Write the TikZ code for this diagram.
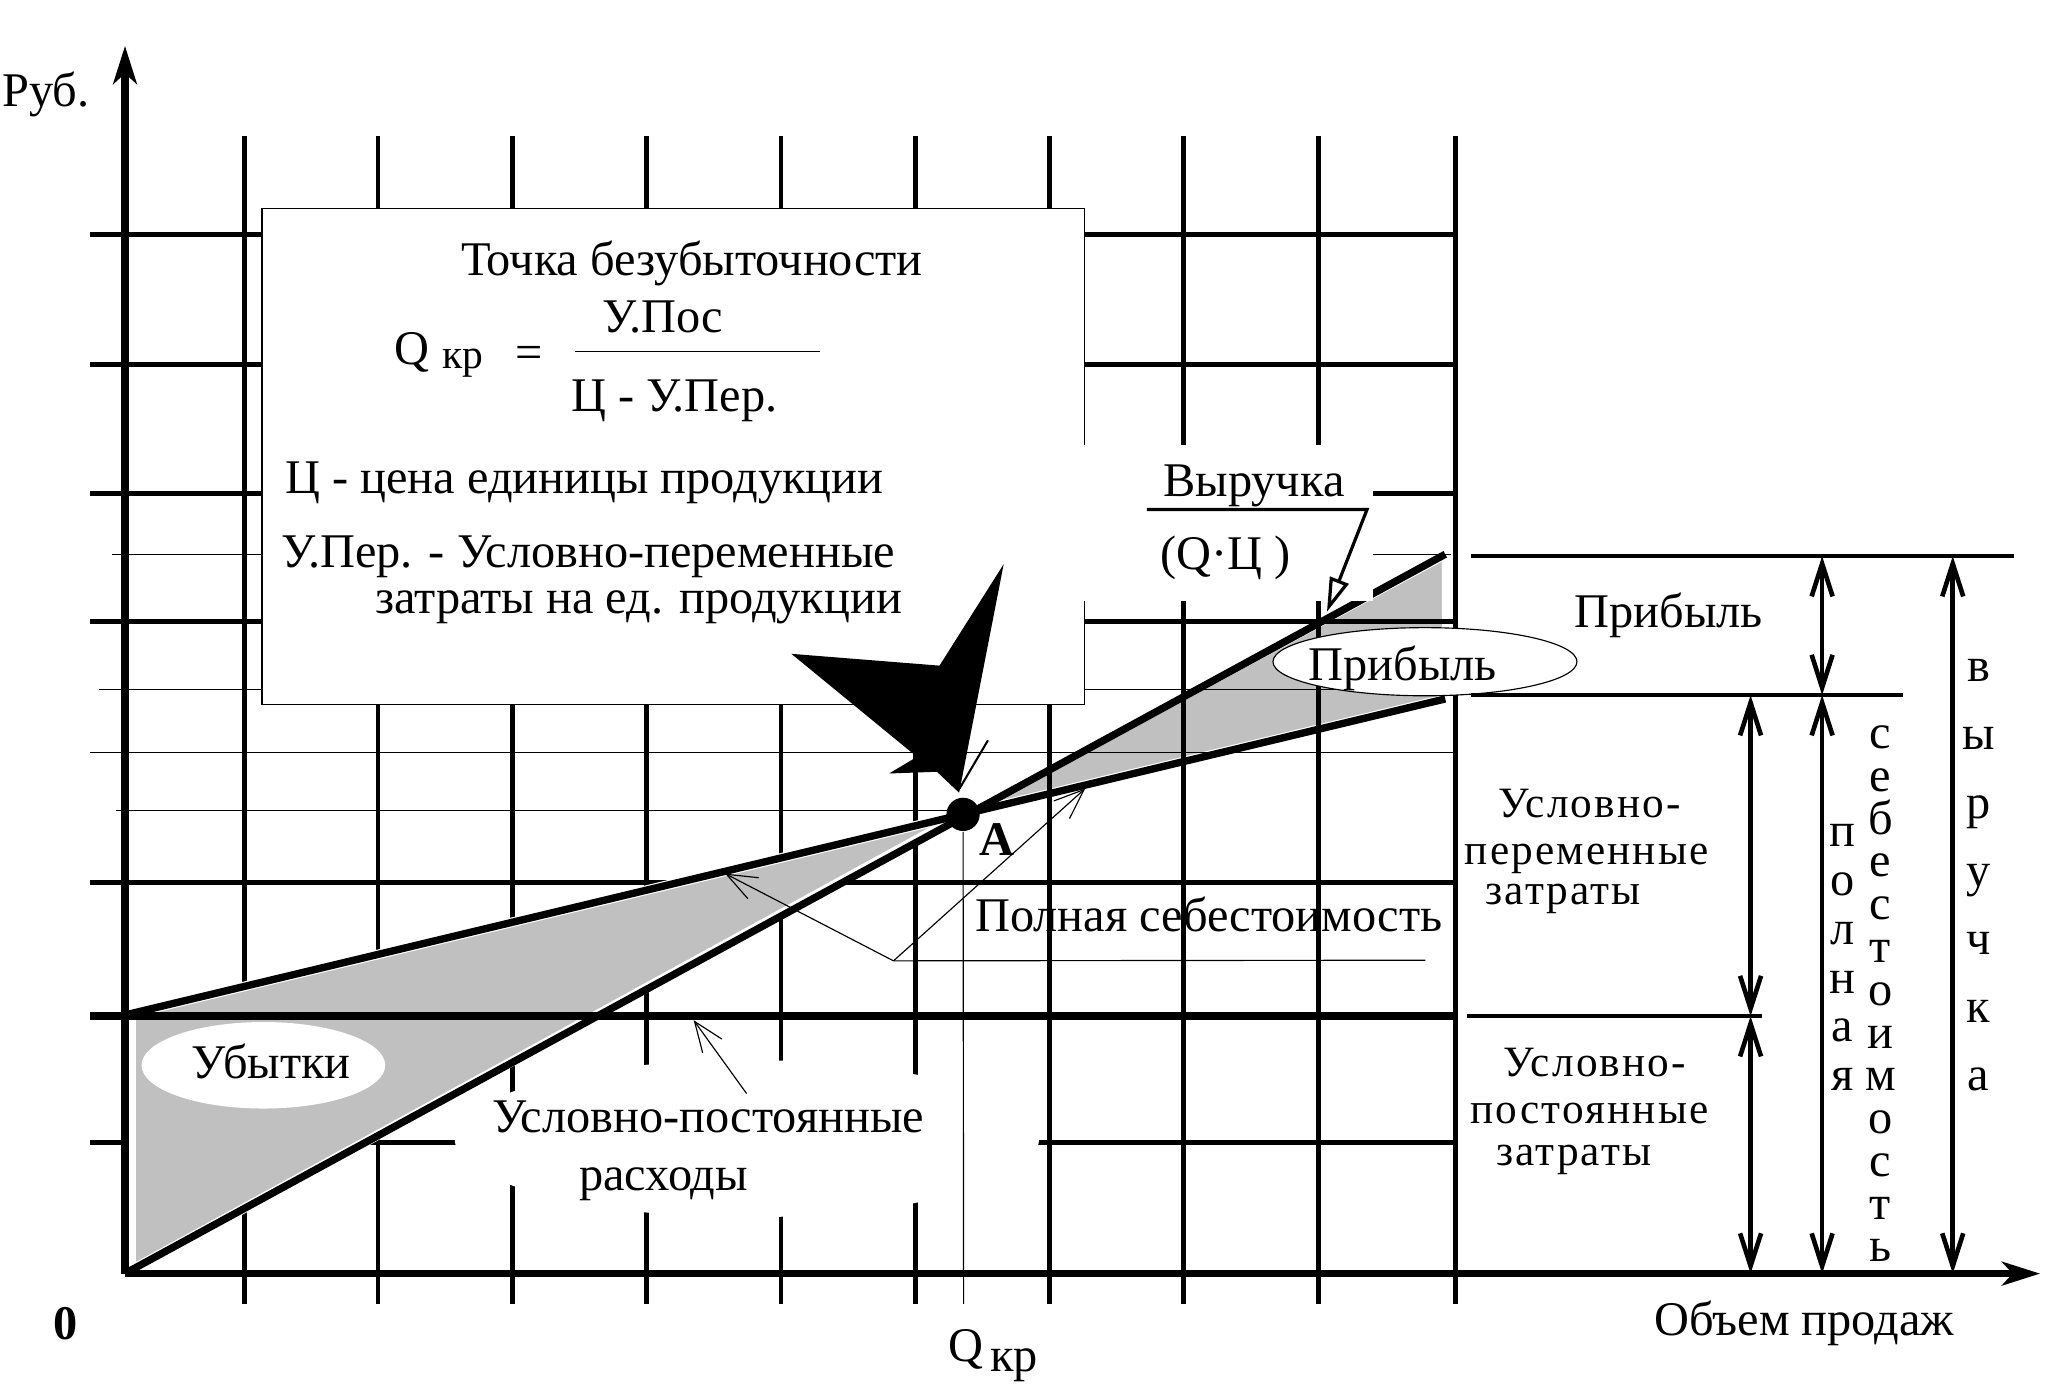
\documentclass[tikz,border=0pt]{standalone}
\usepackage{fontspec}
\setmainfont{Liberation Serif}
\usetikzlibrary{positioning, shapes.geometric, arrows.meta}
\definecolor{shadegrey}{HTML}{C0C0C0}
\tikzset{
    gridline/.style={line width=1.05pt},
    thinline/.style={line width=0.25pt},
    heavyline/.style={line width=1.6pt},
    shade/.style={fill=shadegrey, draw=white, line width=2.1pt, line join=round},
    txt/.style={font=\fontsize{10.5}{12}\selectfont, inner sep=0pt},
    txtb/.style={font=\fontsize{10.5}{12}\selectfont\bfseries, inner sep=0pt},
    sidetxt/.style={font=\fontsize{9.4}{11}\selectfont\addfontfeature{LetterSpace=5}, inner sep=0pt},
    measure/.style={line width=1pt, {Straight Barb[length=2.5mm, width=1.6mm]}-{Straight Barb[length=2.5mm, width=1.6mm]}},
    pointer/.style={thinline, -{Straight Barb[length=2.3mm, width=1.8mm]}},
}

\begin{document}
\begin{tikzpicture}[x=0.1mm, y=-0.1mm]
            \useasboundingbox (0, 0) rectangle (1563, 1058.5);

            \coordinate (orig) at (95.4, 972);
            \coordinate (ytop) at (95.4, 35);
            \coordinate (xend) at (1557, 972);
            \coordinate (O) at (97, 971);
            \coordinate (F) at (98, 774);
            \coordinate (Rend) at (1103, 423);
            \coordinate (Cend) at (1103, 533.4);

            \filldraw [shade] (735, 621.5) -- (1104, 422.5) -- (1104, 533.2) -- cycle;

            \foreach \x in {186.5, 288.5, 391, 493.5, 596, 698.5, 801, 903.5, 1006.5, 1111}
                \draw [gridline] (\x, 103.7) -- (\x, 995);
            \foreach \y in {178.8, 278, 376.8, 474.6, 673.5, 872}
                \draw [gridline] (68.7, \y) -- (1111, \y);
            \draw [thinline] (85.7, 423.3) -- (1107, 423.3);
            \draw [thinline] (75.8, 526.5) -- (1111, 526.5);
            \draw [thinline] (68.7, 574.3) -- (1111, 574.3);
            \draw [thinline] (88.5, 618.6) -- (735, 618.6);

            \filldraw [shade] (100, 773.5) -- (735, 621.5) -- (100, 969.4) -- cycle;

            \draw [heavyline] (68.7, 775.5) -- (1111, 775.5);
            \draw [heavyline, -{Stealth[length=2.9mm, width=1.8mm, inset=0.8mm]}] (orig) -- (ytop);
            \draw [heavyline, -{Stealth[length=2.9mm, width=1.8mm, inset=0.8mm]}] (orig) -- (xend);
            \draw [heavyline] (O) -- (Rend);
            \draw [heavyline] (F) -- (Cend);

            \node [draw, thinline, fill=white, minimum width=62.76mm, minimum height=37.86mm, inner sep=0pt] (infobox) at (513.8, 348.1) {};
            \fill [white] (826, 339.7) rectangle (1048, 459);
            \node [ellipse, fill=white, minimum width=18.6mm, minimum height=6.6mm, inner sep=0pt] (lossoval) at (201, 813) {};
            \node [ellipse, fill=white, minimum width=44.6mm, minimum height=12mm, inner sep=0pt] (fixoval) at (570, 869) {};
            \node [ellipse, draw, thinline, fill=white, minimum width=23.2mm, minimum height=5.2mm, inner sep=0pt] (profitoval) at (1087.5, 505) {};

            \node [txt, anchor=base west] (rub) at (1, 81.3) {Руб.};
            \node [txtb, anchor=base] (zero) at (50, 1022) {0};
            \node [txt, anchor=base] (volume) at (1377, 1019.5) {Объем продаж};
            \node [txt, anchor=base] (qbot) at (737, 1039) {Q};
            \node [txt, anchor=base west] (krbot) at (755, 1047) {кр};

            \node [txt, anchor=base] (title) at (528, 210.3) {Точка безубыточности};
            \node [txt, anchor=base] (qf) at (314.5, 278.5) {Q};
            \node [txt, anchor=base west, font=\fontsize{9}{10}\selectfont] (krf) at (337, 281.5) {кр};
            \node [txt] (eq) at (404, 272.6) {=};
            \node [txt, anchor=base] (num) at (506, 254) {У.Пос};
            \coordinate (fracl) at (439, 268.5);
            \coordinate (fracr) at (626, 268.5);
            \draw [thinline] (fracl) -- (fracr);
            \node [txt, anchor=base] (den) at (514.5, 313.7) {Ц - У.Пер.};
            \node [txt, anchor=base west] (defc) at (217, 376.8) {Ц - цена единицы продукции};
            \node [txt, anchor=base west] (defv) at (214.3, 432.9) {У.Пер. - Условно-переменные};
            \node [txt, anchor=base west] (defv2) at (285.5, 467.9) {затраты на ед. продукции};

            \fill (766, 430.5) -- (717, 508) -- (604, 499) -- (699.8, 577.6) -- (678.6, 590.3) -- (715, 589) -- (732, 605) -- cycle;
            \draw [line width=0.45pt] (732.3, 601.8) -- (754, 565);

            \node [circle, fill, inner sep=0pt, minimum size=2.54mm] (A) at (735, 621.5) {};
            \coordinate (qfoot) at (735.4, 995);
            \draw [thinline] (A) -- (qfoot);
            \node [txtb, anchor=base] (Alab) at (760.5, 652.7) {A};

            \node [txt, anchor=base] (rev) at (957, 379) {Выручка};
            \node [txt, anchor=base] (revq) at (935.5, 435) {(Q·Ц )};
            \coordinate (revl) at (875.3, 388.8);
            \coordinate (revr) at (1043.3, 388.8);
            \coordinate (revtip) at (1012.7, 466.9);
            \draw [line width=0.7pt, -{Triangle[open, length=2.6mm, width=1.5mm]}] (revl) -- (revr) -- (revtip);

            \node [txt, anchor=base] (profit) at (1070.5, 519) {Прибыль};
            \node [txt, anchor=base] (loss) at (207, 823) {Убытки};

            \node [txt, anchor=base] (total) at (922.5, 711) {Полная себестоимость};
            \coordinate (fork) at (681.9, 733.3);
            \coordinate (ulend) at (1087.8, 732.8);
            \coordinate (tcl) at (553.4, 666.7);
            \coordinate (tcr) at (828.2, 601.8);
            \draw [thinline] (fork) -- (ulend);
            \draw [pointer] (fork) -- (tcl);
            \draw [pointer] (fork) -- (tcr);

            \node [txt, anchor=base] (fixed) at (540.5, 864) {Условно-постоянные};
            \node [txt, anchor=base] (fixed2) at (506.5, 908.4) {расходы};
            \coordinate (fixtail) at (569.8, 834.6);
            \coordinate (fixtip) at (529.4, 778.6);
            \draw [pointer] (fixtail) -- (fixtip);

            \draw [line width=1pt] (1123, 424.4) -- (1537, 424.4);
            \draw [line width=1pt] (1123, 530.5) -- (1452, 530.5);
            \draw [line width=1pt] (1119.6, 775.5) -- (1344.8, 775.5);

            \coordinate (m1t) at (1336, 530.5);
            \coordinate (m1m) at (1336, 775.5);
            \coordinate (m1b) at (1336, 972);
            \coordinate (m2t) at (1390.6, 424.4);
            \coordinate (m2m) at (1390.6, 530.5);
            \coordinate (m2b) at (1390.6, 972);
            \coordinate (m3t) at (1490.3, 424.4);
            \coordinate (m3b) at (1490.3, 972);
            \draw [measure] (m1t) -- (m1m);
            \draw [measure] (m1m) -- (m1b);
            \draw [measure] (m2t) -- (m2m);
            \draw [measure] (m2m) -- (m2b);
            \draw [measure] (m3t) -- (m3b);

            \node [txt, anchor=base] (profitr) at (1273.5, 479) {Прибыль};
            \node [sidetxt, anchor=base] (var1) at (1213, 624) {Условно-};
            \node [sidetxt, anchor=base] (var2) at (1211, 659.5) {переменные};
            \node [sidetxt, anchor=base] (var3) at (1193, 690) {затраты};
            \node [sidetxt, anchor=base] (fix1) at (1217, 821.5) {Условно-};
            \node [sidetxt, anchor=base] (fix2) at (1213, 857.3) {постоянные};
            \node [sidetxt, anchor=base] (fix3) at (1201, 889.5) {затраты};

            \foreach \ch [count=\i] in {п, о, л, н, а, я}
                \node [txt, anchor=base] (full\i) at (1406, {646 + 37.3*(\i - 1)}) {\ch};
            \foreach \ch [count=\i] in {с, е, б, е, с, т, о, и, м, о, с, т, ь}
                \node [txt, anchor=base] (cost\i) at (1435, {571.3 + 32.65*(\i - 1)}) {\ch};
            \foreach \ch [count=\i] in {в, ы, р, у, ч, к, а}
                \node [txt, anchor=base] (sales\i) at (1510, {520.2 + 52.05*(\i - 1)}) {\ch};
        \end{tikzpicture}
\end{document}
